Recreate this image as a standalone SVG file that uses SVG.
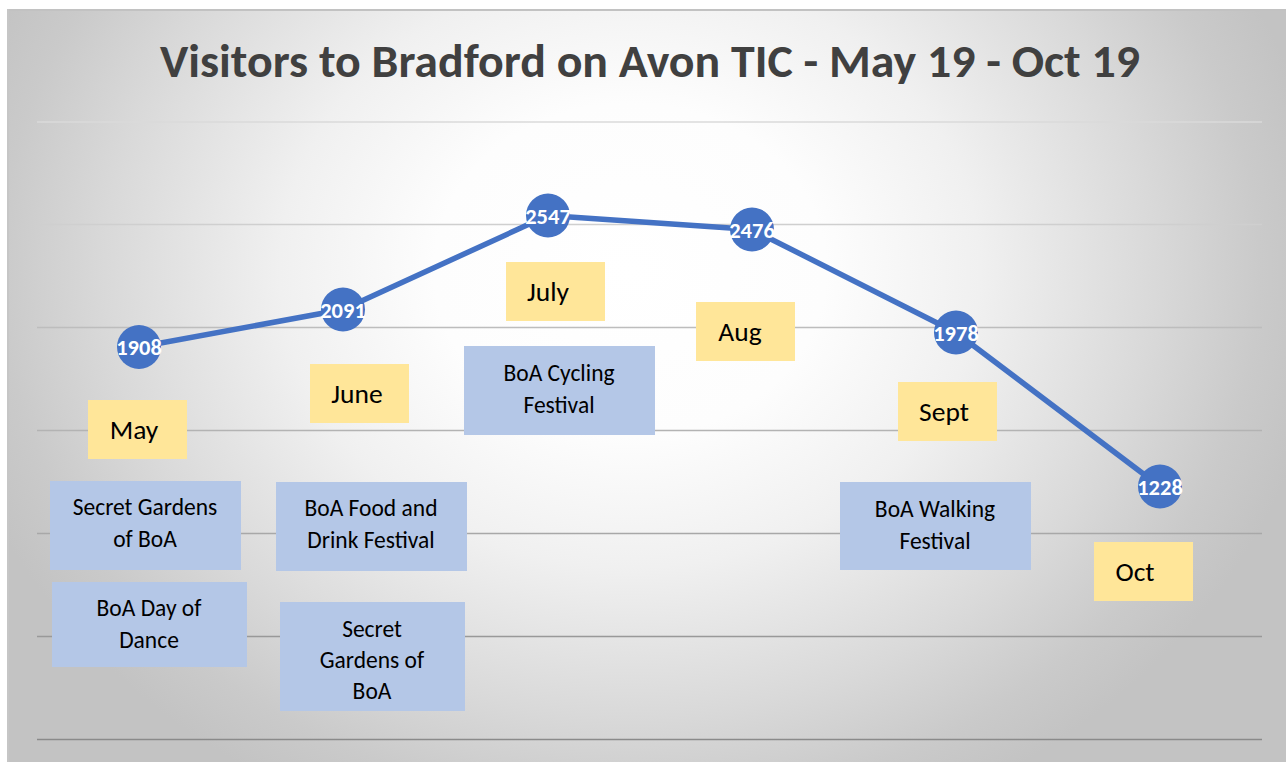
<svg xmlns="http://www.w3.org/2000/svg" width="1286" height="762" viewBox="0 0 1286 762">
  <defs>
    <radialGradient id="bgGrad" gradientUnits="userSpaceOnUse" cx="630" cy="270" r="700" gradientTransform="translate(630 270) scale(1 0.85) translate(-630 -270)">
      <stop offset="0" stop-color="#ffffff"/>
      <stop offset="0.28" stop-color="#fdfdfd"/>
      <stop offset="0.5" stop-color="#f0f0f0"/>
      <stop offset="0.75" stop-color="#d9d9d9"/>
      <stop offset="0.9" stop-color="#cacaca"/>
      <stop offset="1" stop-color="#c3c3c3"/>
    </radialGradient>
    <style>
      .title { font-family: Carlito, Lato, "Liberation Sans", sans-serif; font-weight: bold; font-size: 46px; fill: #404040; text-anchor: middle; }
      .grid { fill: none; stroke-width: 1.6; }
      .month rect { fill: #ffe699; }
      .month text { font-family: Carlito, Lato, "Liberation Sans", sans-serif; font-size: 27.5px; fill: #000000; text-anchor: middle; }
      .event rect { fill: #b4c7e7; }
      .event text { font-family: Carlito, Lato, "Liberation Sans", sans-serif; font-size: 23.5px; fill: #000000; text-anchor: middle; }
      .series { fill: none; stroke: #4472c4; stroke-width: 5.5; stroke-linejoin: round; stroke-linecap: round; }
      .point circle { fill: #4472c4; }
      .point text { font-family: Carlito, Lato, "Liberation Sans", sans-serif; font-weight: bold; font-size: 22.5px; fill: #ffffff; text-anchor: middle; }
    </style>
  </defs>

  <!-- chart area -->
  <rect x="0" y="0" width="1286" height="762" fill="#ffffff"/>
  <rect x="7" y="9" width="1279" height="753" fill="url(#bgGrad)"/>
  <line x1="7" y1="10" x2="1286" y2="10" stroke="#c2c2c2" stroke-width="2"/>
  <line x1="8" y1="9" x2="8" y2="762" stroke="#c6c6c6" stroke-width="2"/>

  <text class="title" x="650" y="77" textLength="980" lengthAdjust="spacingAndGlyphs">Visitors to Bradford on Avon TIC - May 19 - Oct 19</text>

  <!-- horizontal gridlines, every 500 visitors -->
  <g id="gridlines">
    <line class="grid" x1="37" y1="122" x2="1262" y2="122" stroke="#dadada"/>
    <line class="grid" x1="37" y1="224.5" x2="1262" y2="224.5" stroke="#cfcfcf"/>
    <line class="grid" x1="37" y1="327.5" x2="1262" y2="327.5" stroke="#bdbdbd"/>
    <line class="grid" x1="37" y1="430.5" x2="1262" y2="430.5" stroke="#b3b3b3"/>
    <line class="grid" x1="37" y1="533.5" x2="1262" y2="533.5" stroke="#a8a8a8"/>
    <line class="grid" x1="37" y1="636.5" x2="1262" y2="636.5" stroke="#999999" stroke-width="2"/>
    <line class="grid" x1="37" y1="739.5" x2="1262" y2="739.5" stroke="#8a8a8a" stroke-width="2"/>
  </g>

  <!-- month labels -->
  <g id="month-may" class="month"><rect x="88" y="400" width="99" height="59"/><text x="134" y="439">May</text></g>
  <g id="month-june" class="month"><rect x="310" y="364" width="99" height="59"/><text x="357" y="403">June</text></g>
  <g id="month-july" class="month"><rect x="506" y="262" width="99" height="59"/><text x="548" y="301">July</text></g>
  <g id="month-aug" class="month"><rect x="696" y="302" width="99" height="59"/><text x="740" y="341">Aug</text></g>
  <g id="month-sept" class="month"><rect x="898" y="382" width="99" height="59"/><text x="944" y="421">Sept</text></g>
  <g id="month-oct" class="month"><rect x="1094" y="542" width="99" height="59"/><text x="1135" y="581">Oct</text></g>

  <!-- events -->
  <g id="event-secret-gardens-may" class="event">
    <rect x="50" y="481" width="191" height="89"/>
    <text x="145" y="515">Secret Gardens</text>
    <text x="145" y="547">of BoA</text>
  </g>
  <g id="event-day-of-dance" class="event">
    <rect x="52" y="582" width="195" height="85"/>
    <text x="149" y="616">BoA Day of</text>
    <text x="149" y="648">Dance</text>
  </g>
  <g id="event-food-drink" class="event">
    <rect x="276" y="482" width="191" height="89"/>
    <text x="371" y="516">BoA Food and</text>
    <text x="371" y="548">Drink Festival</text>
  </g>
  <g id="event-secret-gardens-june" class="event">
    <rect x="280" y="602" width="185" height="109"/>
    <text x="372" y="637">Secret</text>
    <text x="372" y="668">Gardens of</text>
    <text x="372" y="699">BoA</text>
  </g>
  <g id="event-cycling" class="event">
    <rect x="464" y="346" width="191" height="89"/>
    <text x="559" y="381">BoA Cycling</text>
    <text x="559" y="413">Festival</text>
  </g>
  <g id="event-walking" class="event">
    <rect x="840" y="482" width="191" height="88"/>
    <text x="935" y="517">BoA Walking</text>
    <text x="935" y="549">Festival</text>
  </g>

  <!-- visitor series -->
  <g id="connectors">
    <polyline class="series" points="139,347 343,309.5 548,215.5 752,229.5 956,332.5 1160,486.5"/>
  </g>

  <g id="point-may" class="point"><circle cx="139" cy="347" r="22"/><text x="139" y="355">1908</text></g>
  <g id="point-june" class="point"><circle cx="343" cy="309.5" r="22"/><text x="343" y="318">2091</text></g>
  <g id="point-july" class="point"><circle cx="548" cy="215.5" r="22"/><text x="548" y="223.5">2547</text></g>
  <g id="point-aug" class="point"><circle cx="752" cy="229.5" r="22"/><text x="752" y="237.5">2476</text></g>
  <g id="point-sept" class="point"><circle cx="956" cy="332.5" r="22"/><text x="956" y="340.5">1978</text></g>
  <g id="point-oct" class="point"><circle cx="1160" cy="486.5" r="22"/><text x="1160" y="494.5">1228</text></g>
</svg>
